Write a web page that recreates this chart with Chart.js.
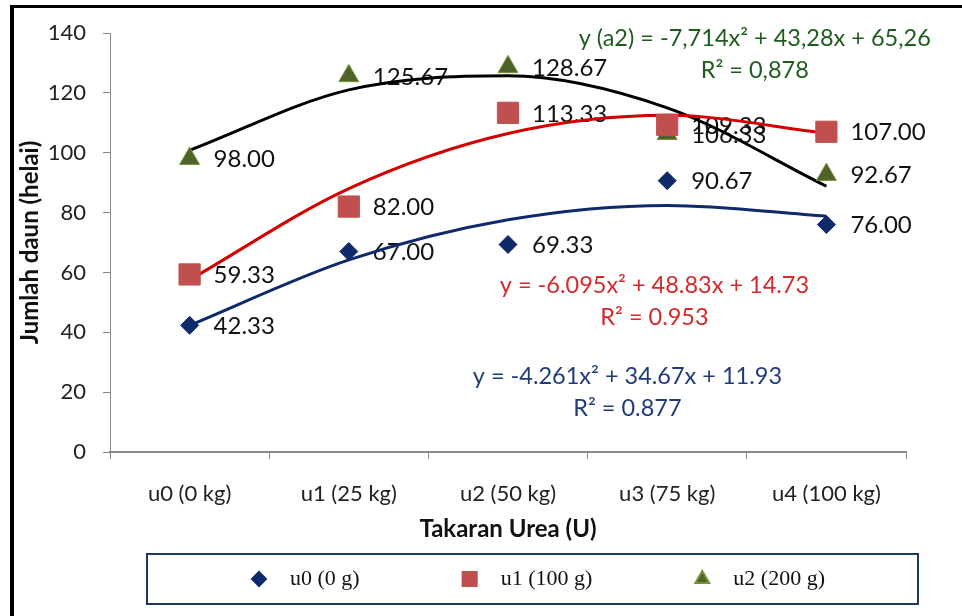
<!DOCTYPE html>
<html>
<head>
<meta charset="utf-8">
<script src="https://cdn.jsdelivr.net/npm/chart.js@4/dist/chart.umd.min.js"></script>
<style>
    html, body { margin: 0; padding: 0; background: #fff; }
    #wrap { position: relative; width: 962px; height: 616px; }
</style>
</head>
<body>
<div id="wrap"><canvas id="daunChart" width="962" height="616"></canvas></div>
<script>
// kategori takaran urea
const categories = ['u0 (0 kg)', 'u1 (25 kg)', 'u2 (50 kg)', 'u3 (75 kg)', 'u4 (100 kg)'];

// jumlah daun per perlakuan
const u0Values = [42.33, 67.00, 69.33, 90.67, 76.00];
const u1Values = [59.33, 82.00, 113.33, 109.33, 107.00];
const u2Values = [98.00, 125.67, 128.67, 106.33, 92.67];

// garis trend polinomial (dibaca dari kurva)
const u0Trend = [42.3, 64.2, 77.6, 82.4, 78.8];
const u1Trend = [57.5, 88.0, 106.4, 112.5, 106.5];
const u2Trend = [100.8, 121.0, 125.7, 115.0, 88.8];

const yTicks = { min: 0, max: 140, step: 20 };

// persamaan regresi: teks, posisi (indeks kategori, nilai y)
const equations = [
    { text: 'y (a2) = -7,714x\u00B2 + 43,28x + 65,26', x: 3.55, y: 138.3, color: '#1e5c1e' },
    { text: 'R\u00B2 = 0,878', x: 3.55, y: 127.6, color: '#1e5c1e' },
    { text: 'y = -6.095x\u00B2 + 48.83x + 14.73', x: 2.92, y: 55.5, color: '#d42a2a' },
    { text: 'R\u00B2 = 0.953', x: 2.92, y: 45.1, color: '#d42a2a' },
    { text: 'y = -4.261x\u00B2 + 34.67x + 11.93', x: 2.75, y: 25.1, color: '#1f3b7a' },
    { text: 'R\u00B2 = 0.877', x: 2.75, y: 14.7, color: '#1f3b7a' }
];

const navy = '#0f2a6b';
const red = '#c0504d';
const olive = '#4f6228';

const extras = {
    id: 'extras',
    beforeDatasetsDraw(chart) {
        const ctx = chart.ctx;
        ctx.save();
        ctx.font = '24px Lato';
        ctx.fillStyle = '#111';
        ctx.textAlign = 'left';
        ctx.textBaseline = 'middle';
        [0, 1, 2].forEach(i => {
            const ds = chart.data.datasets[i];
            chart.getDatasetMeta(i).data.forEach((pt, j) => {
                ctx.fillText(ds.data[j].toFixed(2), pt.x + 24, pt.y + 1);
            });
        });
        ctx.restore();
    },
    afterDraw(chart) {
        const ctx = chart.ctx;
        const xs = chart.scales.x;
        const ys = chart.scales.y;
        ctx.save();

        // persamaan
        ctx.font = '23.5px Lato';
        ctx.textAlign = 'center';
        ctx.textBaseline = 'middle';
        equations.forEach(eq => {
            const px = xs.getPixelForValue(0) + eq.x * (xs.getPixelForValue(1) - xs.getPixelForValue(0));
            ctx.fillStyle = eq.color;
            ctx.fillText(eq.text, px, ys.getPixelForValue(eq.y));
        });

        // legenda
        ctx.strokeStyle = '#1f3864';
        ctx.lineWidth = 2;
        ctx.strokeRect(147, 554, 771, 50);
        ctx.font = '22px "Liberation Serif"';
        ctx.textAlign = 'left';
        let lx = 259;
        [0, 1, 2].forEach(i => {
            const ds = chart.data.datasets[i];
            ctx.fillStyle = ds.backgroundColor;
            ctx.strokeStyle = ds.borderColor;
            Chart.helpers.drawPoint(ctx, {
                pointStyle: ds.pointStyle,
                radius: ds.legendRadius,
                rotation: 0,
                borderWidth: 1
            }, lx, 579);
            ctx.fillStyle = '#111';
            ctx.fillText(ds.label, lx + 31, 579);
            lx += 31 + ctx.measureText(ds.label).width + 110;
        });

        // bingkai
        ctx.fillStyle = '#000';
        ctx.fillRect(10, 5, 952, 3);
        ctx.fillRect(10, 5, 4, 611);
        ctx.restore();
    }
};

const axisFont = { family: 'Lato', size: 22 };
const titleFont = { family: 'Lato', size: 24, weight: 'bold' };

new Chart(document.getElementById('daunChart'), {
    type: 'line',
    data: {
        labels: categories,
        datasets: [
            {
                label: 'u0 (0 g)', data: u0Values, showLine: false,
                pointStyle: 'rectRot', pointRadius: 9, legendRadius: 7,
                backgroundColor: navy, borderColor: navy, order: 0
            },
            {
                label: 'u1 (100 g)', data: u1Values, showLine: false,
                pointStyle: 'rect', pointRadius: 15, legendRadius: 10,
                backgroundColor: red, borderColor: red, order: 0
            },
            {
                label: 'u2 (200 g)', data: u2Values, showLine: false,
                pointStyle: 'triangle', pointRadius: 11.5, legendRadius: 8,
                backgroundColor: olive, borderColor: '#76923c', pointBorderWidth: 1, order: 0
            },
            {
                label: 'trend u0', data: u0Trend, borderColor: navy, borderWidth: 3,
                pointRadius: 0, cubicInterpolationMode: 'monotone', fill: false, order: 1
            },
            {
                label: 'trend u1', data: u1Trend, borderColor: '#d40000', borderWidth: 3,
                pointRadius: 0, cubicInterpolationMode: 'monotone', fill: false, order: 1
            },
            {
                label: 'trend u2', data: u2Trend, borderColor: '#000', borderWidth: 3,
                pointRadius: 0, cubicInterpolationMode: 'monotone', fill: false, order: 1
            }
        ]
    },
    options: {
        responsive: false,
        animation: false,
        layout: { padding: { left: 14, top: 33, right: 56, bottom: 72 } },
        plugins: {
            legend: { display: false },
            tooltip: { enabled: false }
        },
        scales: {
            x: {
                offset: true,
                ticks: { padding: 22, color: '#222', font: axisFont },
                grid: { offset: true, drawOnChartArea: false, tickLength: 7, color: '#888' },
                border: { color: '#888', width: 2 },
                title: { display: true, text: 'Takaran Urea (U)', color: '#111', font: titleFont, padding: { top: 0, bottom: 0 } },
                afterFit(scale) { scale.height = 92; }
            },
            y: {
                min: yTicks.min,
                max: yTicks.max,
                ticks: { stepSize: yTicks.step, padding: 17, color: '#222', font: axisFont },
                grid: { drawOnChartArea: false, tickLength: 7, color: '#888' },
                border: { color: '#888', width: 1 },
                title: { display: true, text: 'Jumlah daun (helai)', color: '#111', font: titleFont, padding: { top: 2, bottom: 0 } },
                afterFit(scale) { scale.width = 96; }
            }
        }
    },
    plugins: [extras]
});
</script>
</body>
</html>
